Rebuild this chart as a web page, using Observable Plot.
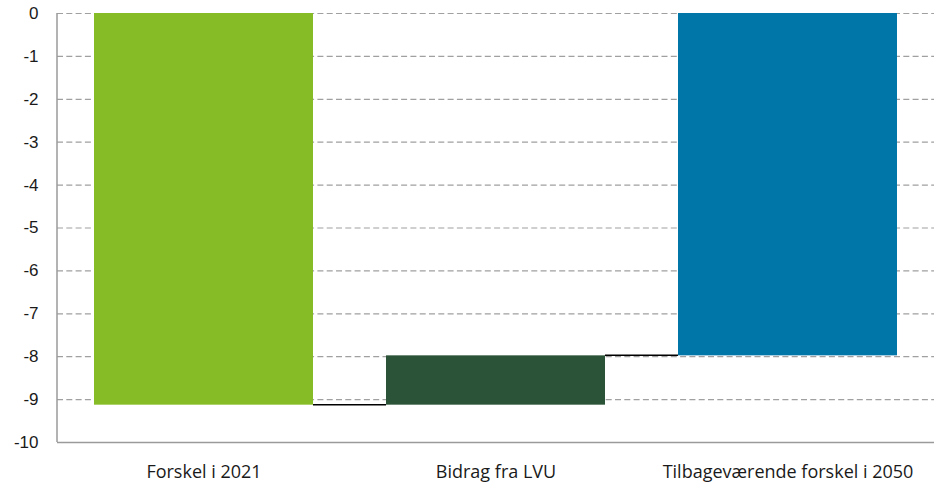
<!DOCTYPE html>
<html>
<head>
<meta charset="utf-8">
<script src="https://cdn.jsdelivr.net/npm/d3@7"></script>
<script src="https://cdn.jsdelivr.net/npm/@observablehq/plot@0.6"></script>
<style>
  html, body { margin: 0; padding: 0; background: #fff; }
  #chart svg { display: block; }
</style>
</head>
<body>
<div id="chart"></div>
<script>
const categories = ["Forskel i 2021", "Bidrag fra LVU", "Tilbageværende forskel i 2050"];
const values = [-9.13, 1.15, -7.98];
const kinds = ["total", "delta", "total"];
const colors = ["#86bc25", "#2b5337", "#0075a7"];
const yTicks = [0, -1, -2, -3, -4, -5, -6, -7, -8, -9, -10];
const gridTicks = [0, -1, -2, -3, -4, -5, -6, -7, -8, -9];

// build waterfall segments
let running = 0;
const bars = categories.map((c, i) => {
  let lo, hi;
  if (kinds[i] === "total") { lo = values[i]; hi = 0; running = values[i]; }
  else { const start = running; running = start + values[i]; lo = Math.min(start, running); hi = Math.max(start, running); }
  return { cat: c, y1: lo, y2: hi, end: running, color: colors[i] };
});

const chart = Plot.plot({
  width: 934,
  height: 486,
  marginLeft: 57,
  marginRight: 0,
  marginTop: 13,
  marginBottom: 44,
  style: { background: "#fff", overflow: "visible" },
  x: { domain: categories, paddingInner: 0.25, paddingOuter: 0.1216, align: 0.5, label: null },
  y: { domain: [-10, 0], label: null },
  marks: [
    Plot.gridY(gridTicks, { stroke: "#a0a0a0", strokeOpacity: 1, strokeWidth: 1.2, strokeDasharray: "6,3.3" }),
    Plot.rectY(bars, { x: "cat", y1: "y1", y2: "y2", fill: "color" }),
    Plot.ruleY([-10], { stroke: "#9a9a9a", strokeWidth: 1.5 }),
    Plot.axisY(yTicks, { tickSize: 0, tickPadding: 19, tickFormat: d => String(d) }),
    Plot.axisX({ tickSize: 0, tickPadding: 23 })
  ]
});

document.getElementById("chart").appendChild(chart);

// style tick labels
const yLabelSet = new Set(yTicks.map(String));
d3.select(chart).selectAll("text").each(function () {
  const t = d3.select(this);
  const s = this.textContent.replace("\u2212", "-");
  if (yLabelSet.has(s)) {
    t.style("font-family", "'Liberation Sans', Arial, sans-serif").style("font-size", "17px").style("fill", "#1a1a1a");
  } else {
    t.style("font-family", "'Open Sans', sans-serif").style("font-size", "18px").style("fill", "#1a1a1a");
  }
});

// connectors and left axis line, positioned through Plot's own scales
const xs = chart.scale("x");
const ys = chart.scale("y");
const svg = d3.select(chart);
const g = svg.append("g");
for (let i = 0; i < bars.length - 1; i++) {
  const xa = xs.apply(bars[i].cat) + xs.bandwidth;
  const xb = xs.apply(bars[i + 1].cat);
  const yv = ys.apply(bars[i].end);
  g.append("line").attr("x1", xa).attr("x2", xb).attr("y1", yv).attr("y2", yv)
    .attr("stroke", "#000").attr("stroke-width", 1.5);
}
g.append("line")
  .attr("x1", xs.range[0]).attr("x2", xs.range[0])
  .attr("y1", ys.apply(0)).attr("y2", ys.apply(-10))
  .attr("stroke", "#9a9a9a").attr("stroke-width", 1.5);
</script>
</body>
</html>
